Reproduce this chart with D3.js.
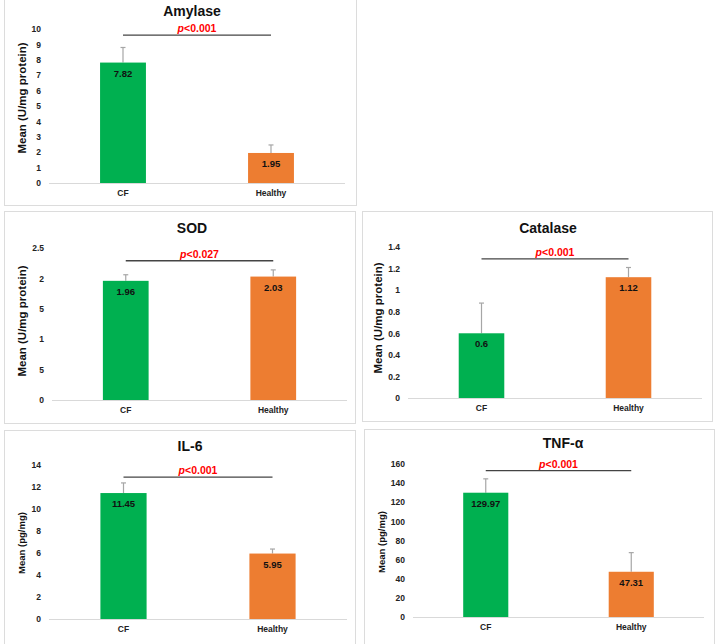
<!DOCTYPE html>
<html>
<head>
<meta charset="utf-8">
<script src="https://cdn.jsdelivr.net/npm/d3@7"></script>
<style>
  body { margin: 0; background: #fff; }
  svg { display: block; font-family: "Liberation Sans", Arial, sans-serif; }
</style>
</head>
<body>
<svg id="chart" width="720" height="644"></svg>
<script>
// ---------------- DATA ----------------
const categories = ["CF", "Healthy"];

const amylaseMeans = [7.82, 1.95];
const amylaseSD = [0.98, 0.52];
const amylaseTicks = [0, 1, 2, 3, 4, 5, 6, 7, 8, 9, 10];
const amylaseTickLabels = ["0", "1", "2", "3", "4", "5", "6", "7", "8", "9", "10"];
const amylaseSigLevel = 9.6;
const amylaseP = "<0.001";

const sodMeans = [1.96, 2.03];
const sodSD = [0.10, 0.11];
const sodTicks = [0, 0.5, 1, 1.5, 2, 2.5];
const sodTickLabels = ["0", "5", "1", "5", "2", "2.5"];
const sodSigLevel = 2.29;
const sodP = "<0.027";

const catalaseMeans = [0.6, 1.12];
const catalaseSD = [0.28, 0.09];
const catalaseTicks = [0, 0.2, 0.4, 0.6, 0.8, 1, 1.2, 1.4];
const catalaseTickLabels = ["0", "0.2", "0.4", "0.6", "0.8", "1", "1.2", "1.4"];
const catalaseSigLevel = 1.29;
const catalaseP = "<0.001";

const il6Means = [11.45, 5.95];
const il6SD = [0.92, 0.41];
const il6Ticks = [0, 2, 4, 6, 8, 10, 12, 14];
const il6TickLabels = ["0", "2", "4", "6", "8", "10", "12", "14"];
const il6SigLevel = 12.9;
const il6P = "<0.001";

const tnfMeans = [129.97, 47.31];
const tnfSD = [14.5, 20.0];
const tnfTicks = [0, 20, 40, 60, 80, 100, 120, 140, 160];
const tnfTickLabels = ["0", "20", "40", "60", "80", "100", "120", "140", "160"];
const tnfSigLevel = 153;
const tnfP = "<0.001";

// ---------------- LAYOUT ----------------
const panels = [
  { title: "Amylase", ylab: "Mean (U/mg protein)", means: amylaseMeans, sd: amylaseSD, ticks: amylaseTicks, labels: amylaseTickLabels, sig: amylaseSigLevel, p: amylaseP,
    box: [4, -1, 356, 205], x: [49, 345], y: [183, 29], titleX: 192, titleY: 16, ylabX: 22, ylabY: 98, ylabSize: 11.5 },
  { title: "SOD", ylab: "Mean (U/mg protein)", means: sodMeans, sd: sodSD, ticks: sodTicks, labels: sodTickLabels, sig: sodSigLevel, p: sodP,
    box: [4, 211, 355, 423], x: [52, 347], y: [400, 248], titleX: 192, titleY: 233, ylabX: 22, ylabY: 321, ylabSize: 11.5 },
  { title: "Catalase", ylab: "Mean (U/mg protein)", means: catalaseMeans, sd: catalaseSD, ticks: catalaseTicks, labels: catalaseTickLabels, sig: catalaseSigLevel, p: catalaseP,
    box: [362, 211, 712, 421], x: [408, 702], y: [398, 247], titleX: 548, titleY: 233, ylabX: 378, ylabY: 318, ylabSize: 11.5 },
  { title: "IL-6", ylab: "Mean (pg/mg)", means: il6Means, sd: il6SD, ticks: il6Ticks, labels: il6TickLabels, sig: il6SigLevel, p: il6P,
    box: [4, 430, 355, 644], x: [49, 347], y: [619, 465], titleX: 190, titleY: 451, ylabX: 22, ylabY: 543, ylabSize: 9.5 },
  { title: "TNF-α", ylab: "Mean (pg/mg)", means: tnfMeans, sd: tnfSD, ticks: tnfTicks, labels: tnfTickLabels, sig: tnfSigLevel, p: tnfP,
    box: [364, 429, 714, 644], x: [413, 704], y: [617, 464], titleX: 563, titleY: 448, ylabX: 382, ylabY: 542, ylabSize: 9.5 }
];

const colors = ["#00B050", "#ED7D31"];
const svg = d3.select("#chart");

panels.forEach(P => {
  const g = svg.append("g");
  // panel border
  g.append("rect")
    .attr("x", P.box[0] + 0.5).attr("y", P.box[1] + 0.5)
    .attr("width", P.box[2] - P.box[0]).attr("height", P.box[3] - P.box[1])
    .attr("fill", "#fff").attr("stroke", "#dcdcdc").attr("stroke-width", 1);

  const x = d3.scaleBand().domain(categories).range(P.x).paddingInner(0.69).paddingOuter(0.345);
  const y = d3.scaleLinear().domain([0, d3.max(P.ticks)]).range(P.y);

  // baseline
  g.append("line")
    .attr("x1", P.x[0]).attr("x2", P.x[1])
    .attr("y1", y(0) + 0.5).attr("y2", y(0) + 0.5)
    .attr("stroke", "#d9d9d9").attr("stroke-width", 1);

  // y axis
  const ya = g.append("g").attr("transform", `translate(${P.x[0]},0)`)
    .call(d3.axisLeft(y).tickValues(P.ticks).tickSize(0).tickPadding(8)
      .tickFormat((d, i) => P.labels[i]));
  ya.select(".domain").remove();
  ya.selectAll("text").attr("font-size", 8.5).attr("font-weight", "bold").attr("fill", "#222")
    .attr("font-family", "Liberation Sans, Arial, sans-serif");

  // x axis
  const xa = g.append("g").attr("transform", `translate(0,${y(0)})`)
    .call(d3.axisBottom(x).tickSize(0).tickPadding(7));
  xa.select(".domain").remove();
  xa.selectAll("text").attr("font-size", 8.5).attr("font-weight", "bold").attr("fill", "#222")
    .attr("font-family", "Liberation Sans, Arial, sans-serif");

  // error bars (upper only)
  categories.forEach((c, i) => {
    const cx = x(c) + x.bandwidth() / 2;
    g.append("line")
      .attr("x1", cx).attr("x2", cx)
      .attr("y1", y(P.means[i])).attr("y2", y(P.means[i] + P.sd[i]))
      .attr("stroke", "#a6a6a6").attr("stroke-width", 1.2);
    g.append("line")
      .attr("x1", cx - 2.5).attr("x2", cx + 2.5)
      .attr("y1", y(P.means[i] + P.sd[i])).attr("y2", y(P.means[i] + P.sd[i]))
      .attr("stroke", "#a6a6a6").attr("stroke-width", 1.2);
  });

  // bars
  g.selectAll("rect.bar").data(P.means).enter().append("rect")
    .attr("class", "bar")
    .attr("x", (d, i) => x(categories[i]))
    .attr("width", x.bandwidth())
    .attr("y", d => y(d))
    .attr("height", d => y(0) - y(d))
    .attr("fill", (d, i) => colors[i]);

  // value labels
  g.selectAll("text.val").data(P.means).enter().append("text")
    .attr("class", "val")
    .attr("x", (d, i) => x(categories[i]) + x.bandwidth() / 2)
    .attr("y", d => y(d) + 14)
    .attr("text-anchor", "middle")
    .attr("font-size", 9.5).attr("font-weight", "bold").attr("fill", "#111")
    .text(d => d);

  // significance line
  const sx1 = x(categories[0]) + x.bandwidth() / 2;
  const sx2 = x(categories[1]) + x.bandwidth() / 2;
  g.append("line")
    .attr("x1", sx1).attr("x2", sx2)
    .attr("y1", y(P.sig)).attr("y2", y(P.sig))
    .attr("stroke", "#444").attr("stroke-width", 1.3);
  const pt = g.append("text")
    .attr("x", (sx1 + sx2) / 2).attr("y", y(P.sig) - 3)
    .attr("text-anchor", "middle")
    .attr("font-size", 10.5).attr("font-weight", "bold").attr("fill", "#ff0000");
  pt.append("tspan").attr("font-style", "italic").text("p");
  pt.append("tspan").text(P.p);

  // title
  g.append("text")
    .attr("x", P.titleX).attr("y", P.titleY)
    .attr("text-anchor", "middle")
    .attr("font-size", 14).attr("font-weight", "bold").attr("fill", "#111")
    .text(P.title);

  // y label
  g.append("text")
    .attr("transform", `translate(${P.ylabX},${P.ylabY}) rotate(-90)`)
    .attr("text-anchor", "middle").attr("dy", "0.35em")
    .attr("font-size", P.ylabSize).attr("font-weight", "bold").attr("fill", "#111")
    .text(P.ylab);
});
</script>
</body>
</html>
